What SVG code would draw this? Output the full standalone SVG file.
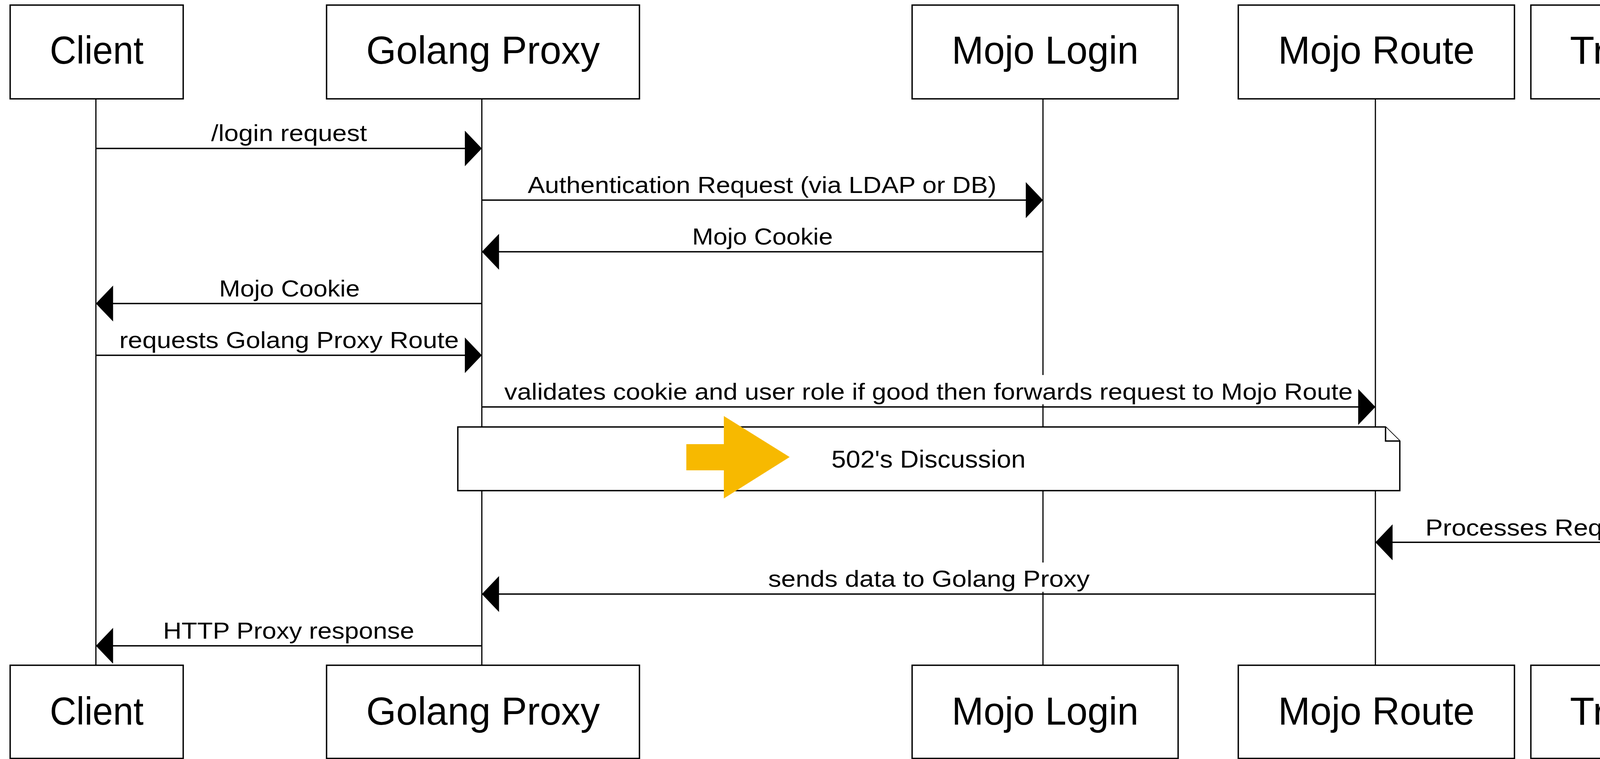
<svg xmlns="http://www.w3.org/2000/svg" width="4805" height="1943" viewBox="0 0 4805 1943">
<style>
.box{fill:#fff;stroke:#000;stroke-width:3.5}
.life{stroke:#000;stroke-width:3;fill:none}
.msg{stroke:#000;stroke-width:3.5;fill:none;marker-end:url(#ah)}
.hdr{font-family:"Liberation Sans",Arial,sans-serif;font-size:100px;fill:#000;text-anchor:middle}
.lbl{font-family:"Liberation Sans",Arial,sans-serif;font-size:60px;fill:#000;text-anchor:middle}
.bg{fill:#fff;stroke:none}
.note{fill:#fff;stroke:#000;stroke-width:3.5;stroke-linejoin:miter}
</style>
<defs>
<marker id="ah" viewBox="0 0 44 92" refX="44" refY="46" markerWidth="44" markerHeight="92" markerUnits="userSpaceOnUse" orient="auto">
<path d="M0,0 L44,46 L0,92 z" fill="#000"/>
</marker>
</defs>
<rect width="4805" height="1943" fill="#fff"/>
<g id="lifelines">
<line class="life" x1="245.5" y1="253" x2="245.5" y2="1703"/>
<line class="life" x1="1233.5" y1="253" x2="1233.5" y2="1703"/>
<line class="life" x1="2670" y1="253" x2="2670" y2="1703"/>
<line class="life" x1="3521" y1="253" x2="3521" y2="1703"/>
<line class="life" x1="4352" y1="253" x2="4352" y2="1703"/>
</g>
<g id="connectors">
<line class="msg" x1="245.5" y1="380" x2="1233.5" y2="380"/>
<line class="msg" x1="1233.5" y1="512.3" x2="2670" y2="512.3"/>
<line class="msg" x1="2670" y1="644.6" x2="1233.5" y2="644.6"/>
<line class="msg" x1="1233.5" y1="777" x2="245.5" y2="777"/>
<line class="msg" x1="245.5" y1="909.5" x2="1233.5" y2="909.5"/>
<line class="msg" x1="1233.5" y1="1041.8" x2="3521" y2="1041.8"/>
<line class="msg" x1="4352" y1="1388.3" x2="3521" y2="1388.3"/>
<line class="msg" x1="3521" y1="1520.7" x2="1233.5" y2="1520.7"/>
<line class="msg" x1="1233.5" y1="1653.2" x2="245.5" y2="1653.2"/>
<rect class="bg" x="532" y="299" width="419" height="75"/>
<text class="lbl" x="740" y="361" textLength="399" lengthAdjust="spacingAndGlyphs">/login request</text>
<rect class="bg" x="1343" y="431" width="1216" height="75"/>
<text class="lbl" x="1951" y="493.5" textLength="1200" lengthAdjust="spacingAndGlyphs">Authentication Request (via LDAP or DB)</text>
<rect class="bg" x="1764" y="564" width="376" height="75"/>
<text class="lbl" x="1952" y="626" textLength="360" lengthAdjust="spacingAndGlyphs">Mojo Cookie</text>
<rect class="bg" x="553" y="697" width="376" height="75"/>
<text class="lbl" x="741" y="759" textLength="360" lengthAdjust="spacingAndGlyphs">Mojo Cookie</text>
<rect class="bg" x="297" y="829" width="885" height="75"/>
<text class="lbl" x="740" y="891" textLength="869" lengthAdjust="spacingAndGlyphs">requests Golang Proxy Route</text>
<rect class="bg" x="1283" y="960" width="2188" height="75"/>
<text class="lbl" x="2377" y="1022.5" textLength="2172" lengthAdjust="spacingAndGlyphs">validates cookie and user role if good then forwards request to Mojo Route</text>
<rect class="bg" x="3641" y="1308" width="596" height="75"/>
<text class="lbl" x="3939" y="1370.5" textLength="580" lengthAdjust="spacingAndGlyphs">Processes Request</text>
<rect class="bg" x="1959" y="1440" width="839" height="75"/>
<text class="lbl" x="2378" y="1501.7" textLength="823" lengthAdjust="spacingAndGlyphs">sends data to Golang Proxy</text>
<rect class="bg" x="409" y="1572" width="659" height="75"/>
<text class="lbl" x="739" y="1634.5" textLength="643" lengthAdjust="spacingAndGlyphs">HTTP Proxy response</text>
</g>
<g id="note-502">
<path class="note" d="M1172,1093 L3547,1093 L3583.5,1129 L3583.5,1256 L1172,1256 Z"/>
<path class="note" d="M3547,1093 L3547,1129 L3583.5,1129"/>
<text class="lbl" x="2377" y="1196.5" style="font-size:63px" textLength="497" lengthAdjust="spacingAndGlyphs">502's Discussion</text>
<polygon points="1757,1137 1853,1137 1853,1065 2021.5,1170 1853,1276 1853,1204 1757,1204" fill="#F7B900"/>
</g>
<g id="client">
<rect class="box" x="26" y="13" width="443" height="240"/>
<text class="hdr" x="247.5" y="163" textLength="240" lengthAdjust="spacingAndGlyphs">Client</text>
<rect class="box" x="26" y="1703" width="443" height="238.5"/>
<text class="hdr" x="247.5" y="1855" textLength="240" lengthAdjust="spacingAndGlyphs">Client</text>
</g>
<g id="golang-proxy">
<rect class="box" x="836" y="13" width="801" height="240"/>
<text class="hdr" x="1236.5" y="163" textLength="598" lengthAdjust="spacingAndGlyphs">Golang Proxy</text>
<rect class="box" x="836" y="1703" width="801" height="238.5"/>
<text class="hdr" x="1236.5" y="1855" textLength="598" lengthAdjust="spacingAndGlyphs">Golang Proxy</text>
</g>
<g id="mojo-login">
<rect class="box" x="2335" y="13" width="681" height="240"/>
<text class="hdr" x="2675.5" y="163" textLength="478" lengthAdjust="spacingAndGlyphs">Mojo Login</text>
<rect class="box" x="2335" y="1703" width="681" height="238.5"/>
<text class="hdr" x="2675.5" y="1855" textLength="478" lengthAdjust="spacingAndGlyphs">Mojo Login</text>
</g>
<g id="mojo-route">
<rect class="box" x="3170" y="13" width="707" height="240"/>
<text class="hdr" x="3523.5" y="163" textLength="503" lengthAdjust="spacingAndGlyphs">Mojo Route</text>
<rect class="box" x="3170" y="1703" width="707" height="238.5"/>
<text class="hdr" x="3523.5" y="1855" textLength="503" lengthAdjust="spacingAndGlyphs">Mojo Route</text>
</g>
<g id="traffic-ops-db">
<rect class="box" x="3919" y="13" width="867" height="240"/>
<text class="hdr" x="4352.5" y="163" textLength="667" lengthAdjust="spacingAndGlyphs">Traffic Ops DB</text>
<rect class="box" x="3919" y="1703" width="867" height="238.5"/>
<text class="hdr" x="4352.5" y="1855" textLength="667" lengthAdjust="spacingAndGlyphs">Traffic Ops DB</text>
</g>
</svg>
